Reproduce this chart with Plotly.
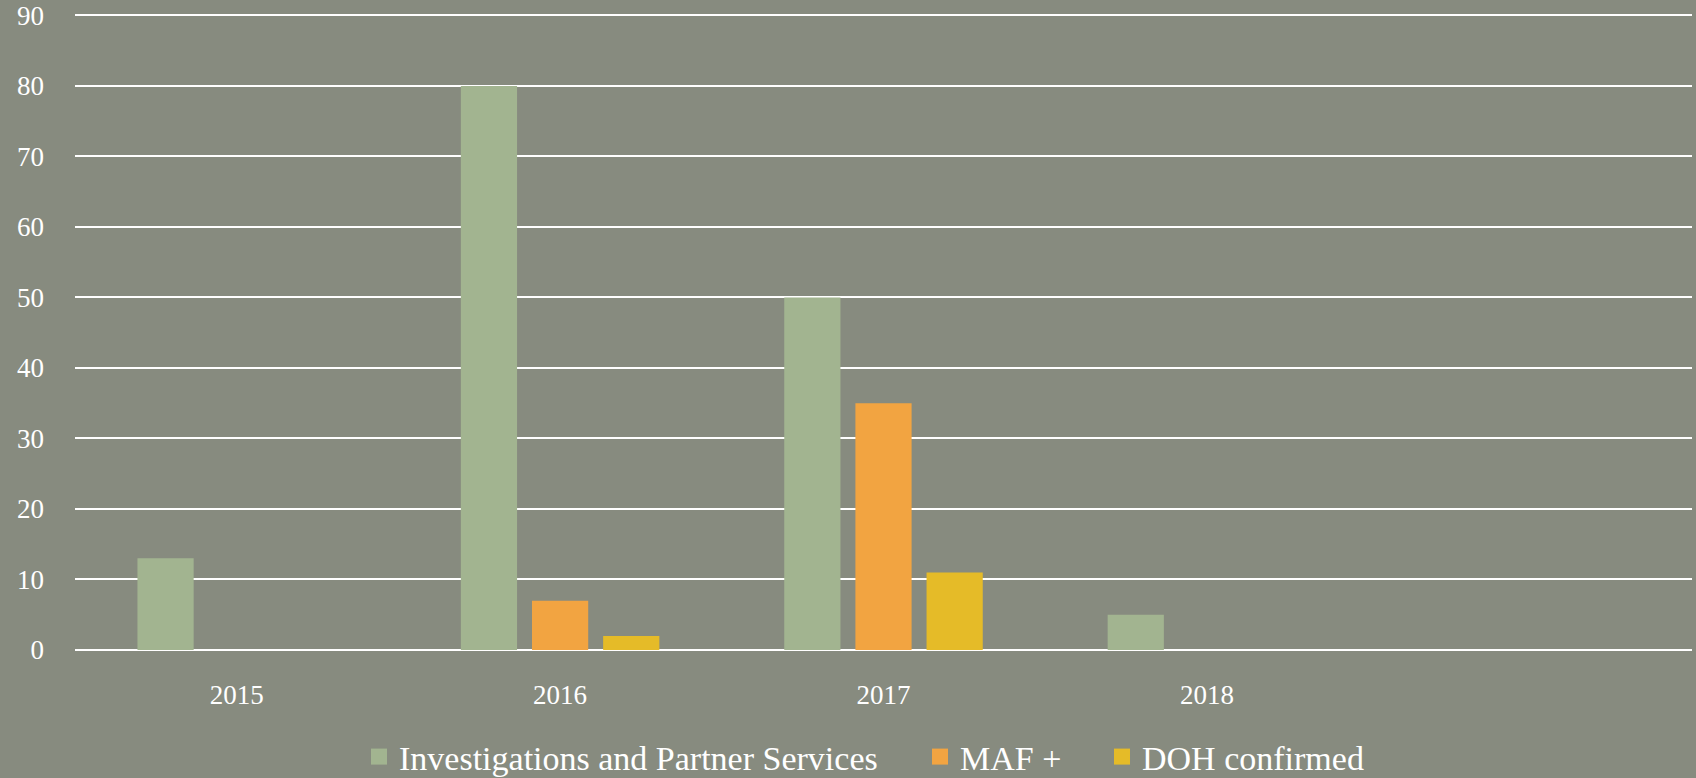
import plotly.graph_objects as go

# chart data
years = ["2015", "2016", "2017", "2018", ""]
investigations = [13, 80, 50, 5, None]
maf_plus = [None, 7, 35, None, None]
doh_confirmed = [None, 2, 11, None, None]

series = [
    ("Investigations and Partner Services", investigations, "#a2b490", "legend"),
    ("MAF +", maf_plus, "#f2a441", "legend2"),
    ("DOH confirmed", doh_confirmed, "#e5bb28", "legend3"),
]

font_family = "Liberation Serif, DejaVu Serif, serif"

fig = go.Figure()
for name, values, color, leg in series:
    fig.add_trace(go.Bar(x=years, y=values, name=name, marker_color=color,
                         marker_line_width=0, showlegend=False))
    # bigger square symbols for the legend
    fig.add_trace(go.Scatter(x=[None], y=[None], mode="markers", name=name,
                             legend=leg,
                             marker=dict(symbol="square", size=16, color=color)))


def legend_at(x_px):
    return dict(orientation="h", xref="container", x=x_px / 1696, xanchor="left",
                yref="container", y=0.027, yanchor="middle",
                font=dict(size=34), itemwidth=30, bgcolor="rgba(0,0,0,0)")


fig.update_layout(
    width=1696,
    height=778,
    barmode="group",
    bargap=0.34,
    bargroupgap=0.21,
    paper_bgcolor="#878b7f",
    plot_bgcolor="#878b7f",
    margin=dict(l=75, r=4, t=14, b=128, autoexpand=False),
    font=dict(family=font_family, color="white", size=27),
    legend=legend_at(359),
    legend2=legend_at(920),
    legend3=legend_at(1102),
)
fig.update_xaxes(showgrid=False, showline=False, ticks="", ticklabelstandoff=26,
                 tickfont=dict(size=27), automargin=False)
fig.update_yaxes(range=[0, 90.2], tickvals=list(range(0, 100, 10)),
                 gridcolor="white", gridwidth=2,
                 zeroline=True, zerolinecolor="white", zerolinewidth=2,
                 showline=False, ticks="", ticklabelstandoff=30,
                 tickfont=dict(size=27), automargin=False)

fig.write_html("out.html", config={"displayModeBar": False},
               post_script="document.body.style.margin='0';"
                           "document.body.style.overflow='hidden';")
